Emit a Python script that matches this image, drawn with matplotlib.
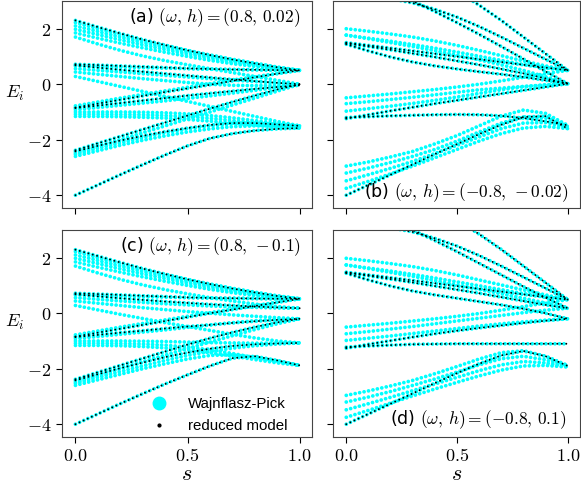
import numpy as np
import matplotlib
matplotlib.use('Agg')
import matplotlib.pyplot as plt
from matplotlib.lines import Line2D

plt.rcParams['mathtext.fontset'] = 'cm'
plt.rcParams['font.family'] = 'DejaVu Sans'

s = [0.0, 0.1, 0.2, 0.3, 0.4, 0.5, 0.6, 0.7, 0.8, 0.9, 1.0]

# panel (a): omega=0.8, h=0.02
a_reduced = [
    [2.30, 2.06, 1.83, 1.61, 1.41, 1.22, 1.05, 0.89, 0.75, 0.61, 0.50],
    [0.72, 0.69, 0.66, 0.63, 0.60, 0.57, 0.55, 0.53, 0.52, 0.51, 0.50],
    [0.68, 0.60, 0.52, 0.45, 0.38, 0.31, 0.24, 0.17, 0.11, 0.05, 0.00],
    [-0.84, -0.70, -0.56, -0.42, -0.28, -0.15, -0.02, 0.12, 0.25, 0.38, 0.50],
    [-0.86, -0.77, -0.68, -0.59, -0.50, -0.41, -0.33, -0.25, -0.17, -0.10, -0.04],
    [-2.38, -2.13, -1.88, -1.63, -1.38, -1.13, -0.88, -0.64, -0.41, -0.19, 0.00],
    [-2.42, -2.22, -2.03, -1.86, -1.71, -1.58, -1.47, -1.40, -1.40, -1.45, -1.50],
    [-4.00, -3.63, -3.26, -2.90, -2.55, -2.22, -1.95, -1.78, -1.67, -1.61, -1.58],
]
a_wp = [
    [2.22, 2.00, 1.79, 1.59, 1.40, 1.22, 1.05, 0.90, 0.76, 0.62, 0.50],
    [2.10, 1.90, 1.70, 1.51, 1.33, 1.16, 1.00, 0.86, 0.72, 0.60, 0.50],
    [1.98, 1.79, 1.60, 1.42, 1.25, 1.09, 0.94, 0.80, 0.68, 0.58, 0.50],
    [1.85, 1.66, 1.48, 1.31, 1.15, 1.00, 0.86, 0.74, 0.64, 0.56, 0.50],
    [1.70, 1.45, 1.22, 1.02, 0.85, 0.70, 0.56, 0.42, 0.28, 0.14, 0.00],
    [0.66, 0.64, 0.62, 0.60, 0.58, 0.56, 0.54, 0.53, 0.52, 0.51, 0.50],
    [0.56, 0.50, 0.44, 0.38, 0.32, 0.26, 0.20, 0.15, 0.10, 0.05, 0.00],
    [0.44, 0.36, 0.28, 0.20, 0.13, 0.06, 0.00, -0.04, -0.05, -0.04, -0.02],
    [0.28, 0.10, -0.08, -0.26, -0.44, -0.62, -0.80, -0.98, -1.16, -1.34, -1.50],
    [-0.78, -0.64, -0.50, -0.37, -0.24, -0.11, 0.02, 0.15, 0.27, 0.39, 0.50],
    [-0.92, -0.84, -0.76, -0.68, -0.60, -0.51, -0.42, -0.32, -0.22, -0.11, 0.00],
    [-1.00, -1.00, -1.00, -1.01, -1.03, -1.07, -1.13, -1.21, -1.31, -1.41, -1.50],
    [-1.08, -1.08, -1.09, -1.10, -1.13, -1.17, -1.23, -1.31, -1.39, -1.47, -1.55],
    [-1.16, -1.16, -1.17, -1.19, -1.22, -1.27, -1.33, -1.40, -1.47, -1.53, -1.58],
    [-2.48, -2.24, -2.00, -1.75, -1.50, -1.25, -1.00, -0.75, -0.50, -0.25, 0.00],
    [-2.53, -2.31, -2.11, -1.92, -1.75, -1.61, -1.50, -1.43, -1.41, -1.46, -1.52],
    [-2.60, -2.40, -2.20, -2.02, -1.86, -1.72, -1.61, -1.53, -1.50, -1.52, -1.56],
]

# panel (b): omega=-0.8, h=-0.02
b_reduced = [
    [3.80, 3.55, 3.30, 3.00, 2.62, 2.22, 1.80, 1.36, 0.91, 0.46, 0.02],
    [3.30, 3.20, 3.08, 2.93, 2.70, 2.42, 2.08, 1.70, 1.30, 0.90, 0.50],
    [5.00, 4.70, 4.40, 4.10, 3.75, 3.35, 2.85, 2.30, 1.70, 1.10, 0.50],
    [1.50, 1.40, 1.30, 1.20, 1.10, 1.00, 0.90, 0.80, 0.70, 0.60, 0.50],
    [1.47, 1.36, 1.24, 1.11, 0.98, 0.84, 0.70, 0.55, 0.39, 0.21, 0.02],
    [1.44, 1.20, 0.98, 0.80, 0.66, 0.55, 0.45, 0.36, 0.26, 0.14, 0.02],
    [-1.24, -1.10, -0.96, -0.83, -0.70, -0.58, -0.46, -0.34, -0.22, -0.10, 0.02],
    [-1.20, -1.17, -1.14, -1.12, -1.10, -1.09, -1.10, -1.14, -1.22, -1.34, -1.48],
    [-4.00, -3.63, -3.26, -2.89, -2.52, -2.16, -1.80, -1.46, -1.18, -1.15, -1.60],
]
b_wp = [
    [2.00, 1.91, 1.81, 1.70, 1.56, 1.40, 1.22, 1.03, 0.84, 0.66, 0.50],
    [1.77, 1.66, 1.55, 1.43, 1.30, 1.16, 1.01, 0.86, 0.71, 0.58, 0.50],
    [1.77, 1.64, 1.50, 1.36, 1.21, 1.05, 0.88, 0.70, 0.50, 0.27, 0.02],
    [-0.49, -0.42, -0.35, -0.27, -0.19, -0.10, 0.00, 0.12, 0.25, 0.38, 0.50],
    [-0.70, -0.63, -0.55, -0.47, -0.38, -0.29, -0.20, -0.14, -0.08, -0.03, 0.02],
    [-0.97, -0.88, -0.79, -0.69, -0.58, -0.46, -0.33, -0.20, -0.09, -0.02, 0.02],
    [-2.95, -2.80, -2.62, -2.42, -2.15, -1.85, -1.50, -1.15, -0.93, -1.05, -1.48],
    [-3.20, -3.02, -2.82, -2.60, -2.35, -2.05, -1.72, -1.40, -1.18, -1.22, -1.52],
    [-3.48, -3.26, -3.03, -2.78, -2.50, -2.20, -1.90, -1.60, -1.40, -1.38, -1.56],
    [-3.75, -3.50, -3.23, -2.95, -2.65, -2.35, -2.05, -1.78, -1.58, -1.52, -1.60],
]

# panel (c): omega=0.8, h=-0.1
c_reduced = [
    [2.29, 2.06, 1.83, 1.61, 1.41, 1.22, 1.05, 0.89, 0.75, 0.62, 0.52],
    [0.72, 0.69, 0.66, 0.63, 0.60, 0.57, 0.55, 0.54, 0.53, 0.52, 0.52],
    [0.68, 0.61, 0.54, 0.48, 0.42, 0.37, 0.32, 0.28, 0.24, 0.21, 0.18],
    [-0.84, -0.70, -0.56, -0.42, -0.28, -0.14, 0.00, 0.13, 0.26, 0.39, 0.52],
    [-0.86, -0.78, -0.70, -0.63, -0.55, -0.48, -0.42, -0.35, -0.29, -0.24, -0.20],
    [-2.38, -2.13, -1.88, -1.63, -1.38, -1.13, -0.90, -0.69, -0.50, -0.33, -0.20],
    [-2.42, -2.20, -1.98, -1.78, -1.58, -1.42, -1.28, -1.18, -1.12, -1.09, -1.07],
    [-4.00, -3.63, -3.26, -2.90, -2.55, -2.22, -1.90, -1.62, -1.55, -1.70, -1.88],
]
c_wp = [
    [2.22, 2.00, 1.79, 1.59, 1.40, 1.22, 1.05, 0.90, 0.76, 0.63, 0.52],
    [2.10, 1.90, 1.70, 1.51, 1.33, 1.16, 1.00, 0.86, 0.72, 0.61, 0.52],
    [1.98, 1.79, 1.60, 1.42, 1.25, 1.09, 0.94, 0.80, 0.68, 0.59, 0.52],
    [1.85, 1.66, 1.48, 1.31, 1.15, 1.00, 0.86, 0.74, 0.64, 0.57, 0.52],
    [1.70, 1.45, 1.22, 1.02, 0.85, 0.70, 0.56, 0.44, 0.33, 0.24, 0.18],
    [0.66, 0.64, 0.62, 0.60, 0.58, 0.56, 0.55, 0.54, 0.53, 0.52, 0.52],
    [0.56, 0.50, 0.44, 0.39, 0.34, 0.30, 0.26, 0.23, 0.21, 0.19, 0.18],
    [0.44, 0.36, 0.28, 0.20, 0.13, 0.06, 0.00, -0.06, -0.11, -0.16, -0.20],
    [0.28, 0.12, -0.04, -0.19, -0.34, -0.48, -0.62, -0.76, -0.89, -1.00, -1.07],
    [-0.78, -0.64, -0.50, -0.37, -0.24, -0.11, 0.02, 0.15, 0.27, 0.40, 0.52],
    [-0.92, -0.84, -0.76, -0.68, -0.60, -0.51, -0.42, -0.34, -0.27, -0.22, -0.20],
    [-1.00, -1.00, -1.00, -1.01, -1.02, -1.04, -1.06, -1.07, -1.08, -1.08, -1.07],
    [-1.08, -1.08, -1.09, -1.11, -1.15, -1.22, -1.32, -1.45, -1.60, -1.75, -1.88],
    [-1.16, -1.16, -1.17, -1.20, -1.25, -1.32, -1.42, -1.54, -1.67, -1.79, -1.88],
    [-2.48, -2.24, -2.00, -1.75, -1.51, -1.27, -1.04, -0.81, -0.59, -0.38, -0.20],
    [-2.53, -2.31, -2.10, -1.90, -1.70, -1.52, -1.38, -1.26, -1.17, -1.11, -1.07],
    [-2.60, -2.40, -2.20, -2.00, -1.82, -1.65, -1.52, -1.50, -1.58, -1.72, -1.88],
]

# panel (d): omega=-0.8, h=0.1
d_reduced = [
    [3.80, 3.55, 3.30, 3.00, 2.62, 2.22, 1.80, 1.38, 0.96, 0.56, 0.18],
    [3.30, 3.20, 3.08, 2.93, 2.70, 2.42, 2.08, 1.70, 1.30, 0.90, 0.49],
    [5.00, 4.70, 4.40, 4.10, 3.75, 3.35, 2.85, 2.30, 1.70, 1.10, 0.49],
    [1.48, 1.38, 1.28, 1.18, 1.08, 0.98, 0.88, 0.78, 0.68, 0.58, 0.49],
    [1.46, 1.35, 1.23, 1.11, 0.98, 0.85, 0.72, 0.58, 0.44, 0.30, 0.18],
    [1.44, 1.20, 0.98, 0.80, 0.66, 0.54, 0.42, 0.30, 0.16, 0.00, -0.20],
    [-1.26, -1.12, -0.99, -0.86, -0.74, -0.63, -0.53, -0.44, -0.35, -0.27, -0.20],
    [-1.22, -1.18, -1.15, -1.12, -1.11, -1.10, -1.10, -1.10, -1.10, -1.10, -1.10],
    [-4.00, -3.63, -3.26, -2.89, -2.52, -2.16, -1.82, -1.52, -1.36, -1.55, -1.90],
]
d_wp = [
    [1.98, 1.89, 1.79, 1.68, 1.54, 1.38, 1.20, 1.02, 0.84, 0.66, 0.49],
    [1.74, 1.63, 1.52, 1.40, 1.27, 1.13, 0.99, 0.85, 0.71, 0.58, 0.49],
    [1.74, 1.61, 1.47, 1.33, 1.18, 1.02, 0.86, 0.70, 0.54, 0.37, 0.18],
    [-0.50, -0.43, -0.36, -0.28, -0.20, -0.11, -0.01, 0.11, 0.24, 0.37, 0.49],
    [-0.74, -0.66, -0.57, -0.48, -0.38, -0.28, -0.18, -0.08, 0.02, 0.11, 0.18],
    [-0.98, -0.90, -0.82, -0.73, -0.64, -0.55, -0.46, -0.38, -0.31, -0.25, -0.20],
    [-2.96, -2.80, -2.62, -2.42, -2.18, -1.92, -1.65, -1.42, -1.35, -1.55, -1.88],
    [-3.20, -3.02, -2.82, -2.60, -2.37, -2.12, -1.86, -1.64, -1.55, -1.68, -1.90],
    [-3.48, -3.26, -3.03, -2.79, -2.55, -2.31, -2.07, -1.86, -1.74, -1.79, -1.92],
    [-3.75, -3.50, -3.24, -2.98, -2.73, -2.49, -2.26, -2.05, -1.90, -1.88, -1.94],
]

labels = ['(a) $(\\omega,\\, h) = (0.8,\\, 0.02)$',
          '(b) $(\\omega,\\, h) = (-0.8,\\, -0.02)$',
          '(c) $(\\omega,\\, h) = (0.8,\\, -0.1)$',
          '(d) $(\\omega,\\, h) = (-0.8,\\, 0.1)$']

fig = plt.figure(figsize=(5.81, 4.91), dpi=100)
ax_a = fig.add_axes([0.1067, 0.5764, 0.4303, 0.4216])
ax_b = fig.add_axes([0.5731, 0.5764, 0.4250, 0.4216])
ax_c = fig.add_axes([0.1067, 0.1100, 0.4303, 0.4216])
ax_d = fig.add_axes([0.5731, 0.1100, 0.4250, 0.4216])
axes = [ax_a, ax_b, ax_c, ax_d]
panels = [(a_wp, a_reduced), (b_wp, b_reduced), (c_wp, c_reduced), (d_wp, d_reduced)]

for ax, (wp, red), lab in zip(axes, panels, labels):
    for E in wp + red:
        ax.plot(s, E, color='cyan', lw=2.7, ls=(0, (0.01, 1.2)), dash_capstyle='round')
    for E in red:
        ax.plot(s, E, color='k', lw=1.4, ls=(0, (0.01, 2.3)), dash_capstyle='round')
    ax.set_xlim(-0.06, 1.055)
    ax.set_ylim(-4.46, 3.0)
    ax.set_xticks([0, 0.5, 1.0])
    ax.set_yticks([-4, -2, 0, 2])
    ax.tick_params(direction='out', length=4, labelsize=13)
    for sp in ax.spines.values():
        sp.set_color('#444444')

for ax in [ax_a, ax_c]:
    ax.set_yticklabels(['$-4$', '$-2$', '$0$', '$2$'])
    ax.set_ylabel('$E_i$', fontsize=13, rotation=0, va='center')
    ax.yaxis.set_label_coords(-0.19, 0.555)
for ax in [ax_b, ax_d]:
    ax.set_yticklabels([])
for ax in [ax_a, ax_b]:
    ax.set_xticklabels([])
for ax in [ax_c, ax_d]:
    ax.set_xticklabels(['$0.0$', '$0.5$', '$1.0$'])
    ax.set_xlabel('$s$', fontsize=16, labelpad=-1)

ax_a.text(0.955, 0.918, labels[0], transform=ax_a.transAxes, ha='right', va='center', fontsize=12.5)
ax_b.text(0.955, 0.072, labels[1], transform=ax_b.transAxes, ha='right', va='center', fontsize=12.5)
ax_c.text(0.955, 0.919, labels[2], transform=ax_c.transAxes, ha='right', va='center', fontsize=12.5)
ax_d.text(0.945, 0.082, labels[3], transform=ax_d.transAxes, ha='right', va='center', fontsize=12.5)

handles = [Line2D([], [], color='cyan', marker='o', ls='', markersize=9),
           Line2D([], [], color='k', marker='.', ls='', markersize=4)]
ax_c.legend(handles, ['Wajnflasz-Pick', 'reduced model'], loc='lower right',
            bbox_to_anchor=(0.955, -0.045), frameon=False,
            prop={'family': 'Liberation Sans', 'size': 10.8},
            handletextpad=0.9, labelspacing=0.5)

fig.savefig('out.png', dpi=100)
